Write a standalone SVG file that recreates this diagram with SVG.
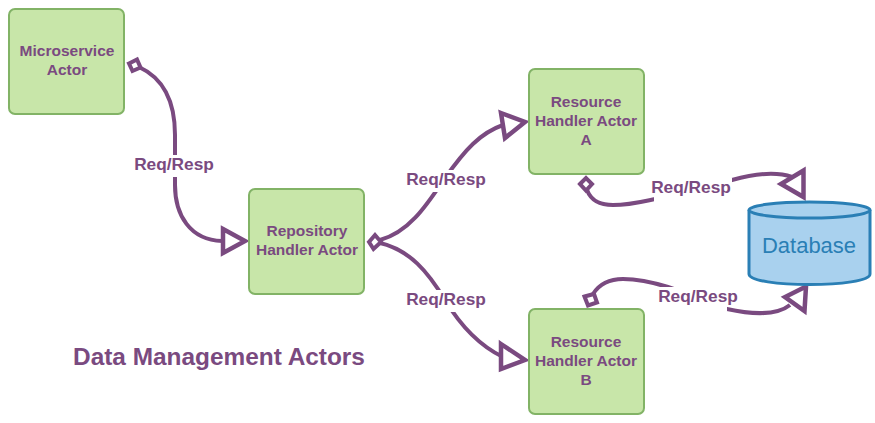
<svg xmlns="http://www.w3.org/2000/svg" width="875" height="423" viewBox="0 0 875 423">
<style>
.node{fill:#c8e6a9;stroke:#82b366;stroke-width:2}
.t{font-family:"Liberation Sans",Arial,sans-serif;font-weight:bold;font-size:15.5px;fill:#7a4a80;text-anchor:middle}
.l{font-size:17.3px}
.c{fill:none;stroke:#7a4a80;stroke-width:4}
.h{fill:#fff;stroke:#7a4a80;stroke-width:4.500;stroke-linejoin:miter}
.d{fill:#fff;stroke:#7a4a80;stroke-width:4;stroke-linejoin:miter}
.bl{fill:#a9d1ee;stroke:#2a7fb5;stroke-width:3}
.bg{fill:#fff}
</style>
<rect width="875" height="423" fill="#fff"/>
<g id="connectors">
<path class="c" d="M139 67C163 78 175 100 175 135V185C175 215 190 240 222 241"/>
<path class="c" d="M380 240C410 232 428 203 445 178C465 150 480 133 503 125"/>
<path class="c" d="M380 243C410 250 428 272 445 300C462 328 480 346 503 357"/>
<path class="c" d="M587 190C592 203 603 205 613 205C630 205 645 201 655 199C680 193 710 186 732 180C750 175 775 171 792 177"/>
<path class="c" d="M593 294C600 283 610 279 623 279C640 279 655 283 668 287C688 293 708 305 727 309C745 313 775 317 790 305"/>
<polygon class="h" points="223,229 245,241 223,253"/>
<polygon class="h" points="501,113 525,122 505,138"/>
<polygon class="h" points="501,344 525,360 501,369"/>
<polygon class="h" points="803.500,170.500 803.500,197 781,184"/>
<polygon class="h" points="806,286.500 804.500,311 785,297"/>
<polygon class="d" points="129,63.500 137,59.500 140.500,67.500 132.500,71"/>
<polygon class="d" points="369,242 375,235 381,242 373.500,249"/>
<polygon class="d" points="580,184 586,178 592,184 586,190.500"/>
<polygon class="d" points="584.500,296.500 594,294 597,302.500 588,305.500"/>
</g>
<g id="microservice"><rect class="node" x="9" y="9" width="115" height="105" rx="6"/><text class="t" x="67" y="56">Microservice</text><text class="t" x="67" y="75">Actor</text></g>
<g id="repository"><rect class="node" x="249" y="189" width="115" height="105" rx="6"/><text class="t" x="307" y="236">Repository</text><text class="t" x="307" y="255">Handler Actor</text></g>
<g id="resourceA"><rect class="node" x="529" y="69" width="115" height="105" rx="6"/><text class="t" x="586" y="107">Resource</text><text class="t" x="586" y="126">Handler Actor</text><text class="t" x="586" y="145">A</text></g>
<g id="resourceB"><rect class="node" x="529" y="309" width="115" height="105" rx="6"/><text class="t" x="586" y="347">Resource</text><text class="t" x="586" y="366">Handler Actor</text><text class="t" x="586" y="385">B</text></g>
<g id="database"><path class="bl" d="M749 210V274C749 288 870 288 870 274V210"/><ellipse class="bl" cx="809.500" cy="210" rx="60.500" ry="8"/><text x="809" y="253" text-anchor="middle" font-family="Liberation Sans,Arial,sans-serif" font-size="22" fill="#2a7fb5">Database</text></g>
<g id="labels">
<rect class="bg" x="133" y="155" width="82" height="22"/><text class="t l" x="174" y="170">Req/Resp</text>
<rect class="bg" x="405" y="170" width="83" height="22"/><text class="t l" x="446" y="185">Req/Resp</text>
<rect class="bg" x="405" y="290" width="83" height="22"/><text class="t l" x="446" y="305">Req/Resp</text>
<rect class="bg" x="654" y="178" width="78" height="24"/><text class="t l" x="691" y="193">Req/Resp</text>
<rect class="bg" x="657" y="287" width="70" height="24"/><text class="t l" x="698" y="302">Req/Resp</text>
<text x="219" y="365" text-anchor="middle" font-family="Liberation Sans,Arial,sans-serif" font-weight="bold" font-size="24.400" fill="#7a4a80">Data Management Actors</text>
</g>
</svg>
